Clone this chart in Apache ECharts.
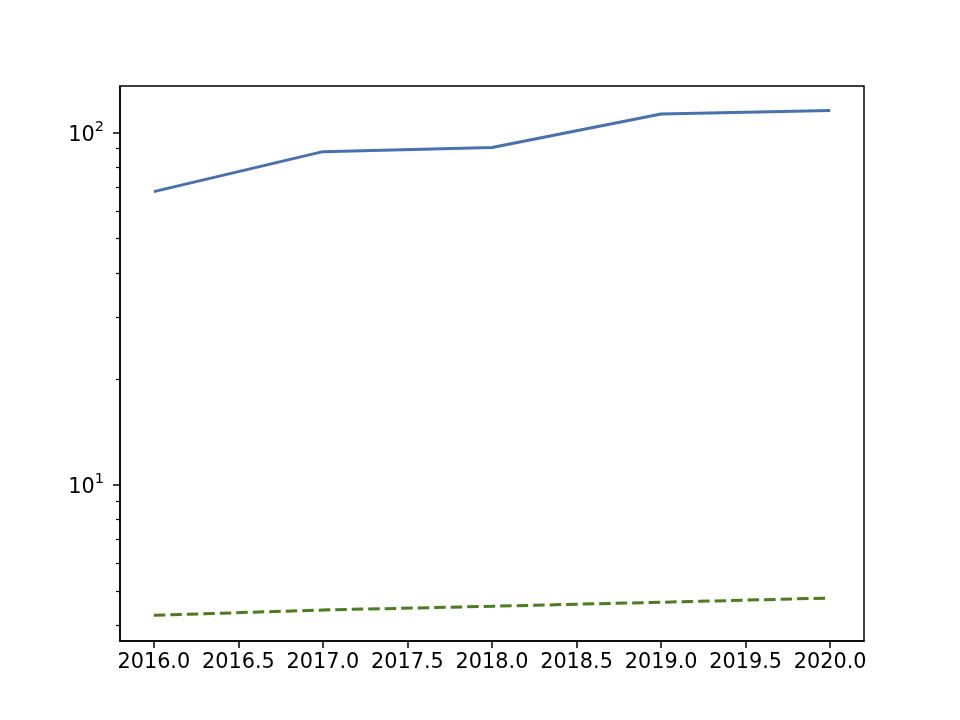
<!DOCTYPE html>
<html>
<head>
<meta charset="utf-8">
<script src="https://cdn.jsdelivr.net/npm/echarts@6/dist/echarts.min.js"></script>
<style>html,body{margin:0;padding:0;background:#fff;}#c{width:960px;height:720px;}</style>
</head>
<body>
<div id="c"></div>
<script>
var years = [2016, 2017, 2018, 2019, 2020];
var seriesA = [68.0, 88.3, 90.7, 113.0, 115.5];
var seriesB = [4.27, 4.42, 4.53, 4.65, 4.78];
var xTicks = [2016.0, 2016.5, 2017.0, 2017.5, 2018.0, 2018.5, 2019.0, 2019.5, 2020.0];
var yMajorTicks = [10, 100];
var yMinorTicks = [4, 5, 6, 7, 8, 9, 20, 30, 40, 50, 60, 70, 80, 90];

var font = 'DejaVu Sans';
function pairs(xs, ys) { return xs.map(function (x, i) { return [x, ys[i]]; }); }

var chart = echarts.init(document.getElementById('c'), null, {renderer: 'canvas'});
var yMin = 3.61, yMax = 135.6;
chart.setOption({
  animation: false,
  backgroundColor: '#ffffff',
  grid: {left: 120, right: 96, top: 86, bottom: 79, show: true, borderColor: '#000', borderWidth: 1.5, backgroundColor: 'transparent'},
  xAxis: {
    type: 'value', min: 2015.8, max: 2020.2,
    splitLine: {show: false},
    axisLine: {show: true, lineStyle: {color: '#000', width: 1.5}},
    axisTick: {show: true, length: 7, lineStyle: {color: '#000', width: 1.5}, customValues: xTicks},
    axisLabel: {customValues: xTicks, margin: 11, color: '#000', fontFamily: font, fontSize: 20.8,
      formatter: function (v) { return Number(v).toFixed(1); }}
  },
  yAxis: [{
    type: 'log', min: yMin, max: yMax,
    splitLine: {show: false},
    axisLine: {show: true, lineStyle: {color: '#000', width: 1.5}},
    axisTick: {show: true, length: 7, lineStyle: {color: '#000', width: 1.5}, customValues: yMajorTicks},
    axisLabel: {customValues: yMajorTicks, margin: 16, color: '#000', fontFamily: font, fontSize: 20.8,
      formatter: function (v) { var e = Math.round(Math.log10(v)); return '{n|10}{e|' + e + '}'; },
      rich: {
        n: {fontFamily: font, fontSize: 20.8, color: '#000', verticalAlign: 'bottom', lineHeight: 26},
        e: {fontFamily: font, fontSize: 14.5, color: '#000', verticalAlign: 'top', lineHeight: 26, padding: [0, 0, 0, 0]}
      }}
  }, {
    type: 'log', min: yMin, max: yMax, position: 'left',
    splitLine: {show: false},
    axisLine: {show: false},
    axisTick: {show: true, length: 4, lineStyle: {color: '#000', width: 1.2}, customValues: yMinorTicks},
    axisLabel: {show: false}
  }],
  series: [{
    type: 'line', data: pairs(years, seriesA), showSymbol: false,
    lineStyle: {color: '#4872ad', width: 3}, itemStyle: {color: '#4872ad'}
  }, {
    type: 'line', data: pairs(years, seriesB), showSymbol: false,
    lineStyle: {color: '#4a7d1c', width: 3, type: [11.5, 5]}, itemStyle: {color: '#4a7d1c'}
  }]
});
</script>
</body>
</html>
